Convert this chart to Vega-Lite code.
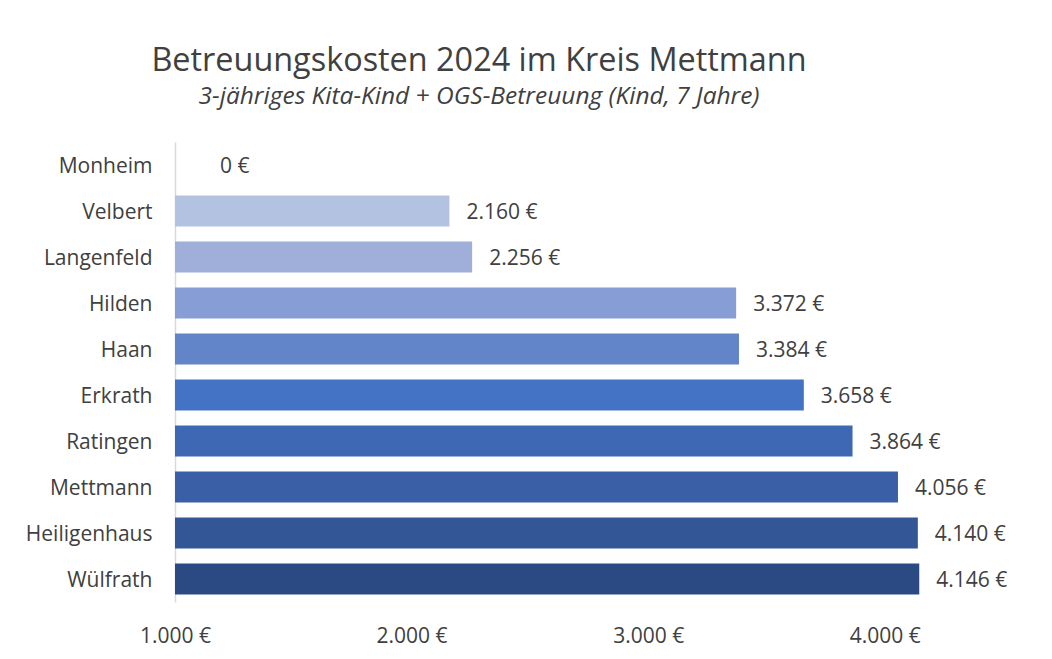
{
  "$schema": "https://vega.github.io/schema/vega-lite/v6.json",
  "width": 828,
  "height": 460,
  "autosize": {"type": "none"},
  "padding": {"left": 175, "top": 142, "right": 49, "bottom": 57},
  "background": "white",
  "config": {
    "font": "Open Sans",
    "view": {"stroke": null},
    "locale": {"number": {"decimal": ",", "thousands": ".", "grouping": [3], "currency": ["", " €"]}}
  },
  "title": {
    "text": "Betreuungskosten 2024 im Kreis Mettmann",
    "subtitle": "3-jähriges Kita-Kind + OGS-Betreuung (Kind, 7 Jahre)",
    "anchor": "middle",
    "frame": "group",
    "dx": -110,
    "offset": 34,
    "font": "Open Sans",
    "fontSize": 32.4,
    "fontWeight": "normal",
    "color": "#404040",
    "subtitleFont": "Open Sans",
    "subtitleFontSize": 24.5,
    "subtitleFontStyle": "italic",
    "subtitleColor": "#404040",
    "subtitlePadding": 7
  },
  "data": {
    "values": [
      {"stadt": "Monheim", "kosten": 0},
      {"stadt": "Velbert", "kosten": 2160},
      {"stadt": "Langenfeld", "kosten": 2256},
      {"stadt": "Hilden", "kosten": 3372},
      {"stadt": "Haan", "kosten": 3384},
      {"stadt": "Erkrath", "kosten": 3658},
      {"stadt": "Ratingen", "kosten": 3864},
      {"stadt": "Mettmann", "kosten": 4056},
      {"stadt": "Heiligenhaus", "kosten": 4140},
      {"stadt": "Wülfrath", "kosten": 4146}
    ]
  },
  "encoding": {
    "y": {
      "field": "stadt",
      "type": "nominal",
      "sort": null,
      "title": null,
      "scale": {"paddingInner": 0.33, "paddingOuter": 0.165},
      "axis": {
        "ticks": false,
        "domainColor": "#d9d9d9",
        "domainWidth": 1.5,
        "labelFont": "Open Sans",
        "labelFontSize": 21,
        "labelColor": "#404040",
        "labelPadding": 23,
        "labelOffset": 2
      }
    },
    "x": {
      "field": "kosten",
      "type": "quantitative",
      "title": null,
      "scale": {"domain": [1000, 4500], "clamp": true, "nice": false, "zero": false},
      "axis": {
        "values": [1000, 2000, 3000, 4000],
        "format": "$,.0f",
        "grid": false,
        "ticks": false,
        "domain": false,
        "labelFlush": false,
        "labelFont": "Open Sans",
        "labelFontSize": 21,
        "labelColor": "#404040",
        "labelPadding": 23
      }
    }
  },
  "layer": [
    {
      "mark": {"type": "bar"},
      "encoding": {
        "color": {
          "field": "stadt",
          "type": "nominal",
          "legend": null,
          "scale": {
            "domain": ["Monheim", "Velbert", "Langenfeld", "Hilden", "Haan", "Erkrath", "Ratingen", "Mettmann", "Heiligenhaus", "Wülfrath"],
            "range": ["#c8d1ea", "#b4c2e1", "#a0afda", "#879dd6", "#6285ca", "#4472c4", "#3f68b4", "#3a5fa6", "#335796", "#2b4a83"]
          }
        }
      }
    },
    {
      "transform": [{"filter": "datum.kosten > 0"}],
      "mark": {"type": "text", "align": "left", "baseline": "middle", "dx": 17, "dy": 2, "font": "Open Sans", "fontSize": 21, "color": "#404040"},
      "encoding": {"text": {"field": "kosten", "type": "quantitative", "format": "$,.0f"}}
    },
    {
      "transform": [{"filter": "datum.kosten == 0"}],
      "mark": {"type": "text", "align": "left", "baseline": "middle", "dx": 45, "dy": 2, "font": "Open Sans", "fontSize": 21, "color": "#404040"},
      "encoding": {"text": {"field": "kosten", "type": "quantitative", "format": "$,.0f"}}
    }
  ]
}
